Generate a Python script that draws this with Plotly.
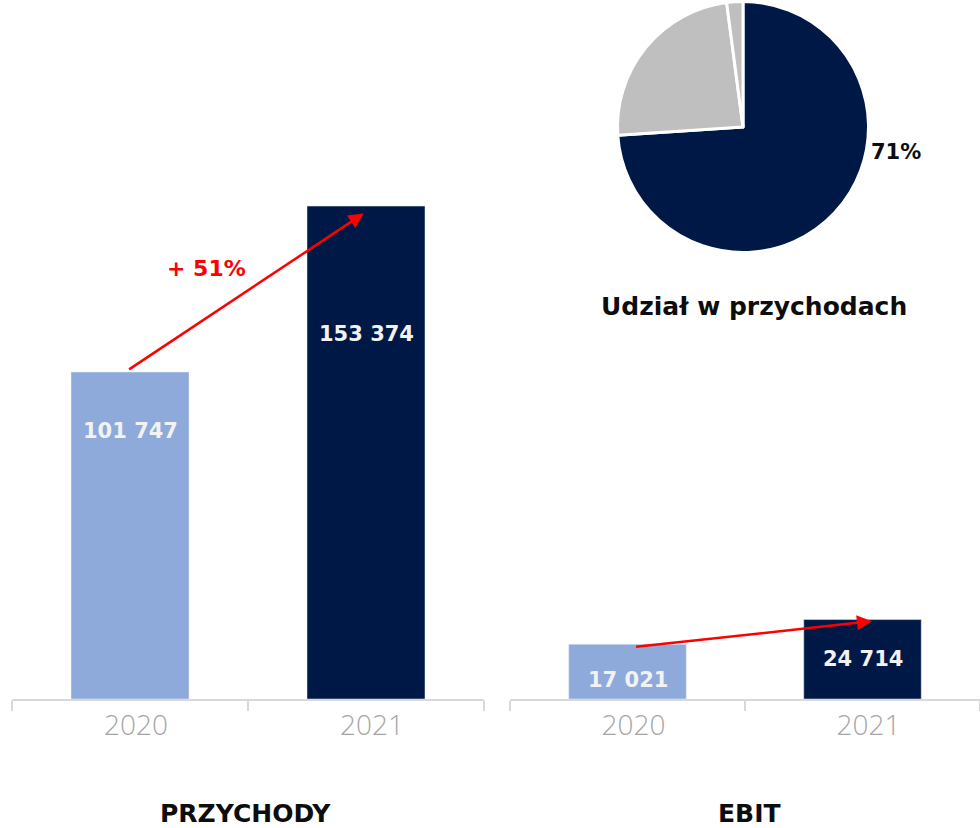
import plotly.graph_objects as go

years = ["2020", "2021"]
revenue = [101747, 153374]
ebit = [17021, 24714]
bar_colors = ["#8eaadb", "#001846"]
growth_label = "+ 51%"
pie_values = [71, 23, 2]
pie_colors = ["#001846", "#bfbfbf", "#bfbfbf"]
pie_title = "Udział w przychodach"
panel_titles = ["PRZYCHODY", "EBIT"]

W, H = 980, 828
FONT = "Open Sans"
BOLD = "DejaVu Sans"
YMAX = 217500


def fmt(v):
    return f"{v:,}".replace(",", " ")


fig = go.Figure()

fig.add_trace(go.Bar(x=years, y=revenue, marker_color=bar_colors, width=0.5,
                     xaxis="x", yaxis="y", hoverinfo="skip"))
fig.add_trace(go.Bar(x=years, y=ebit, marker_color=bar_colors, width=0.5,
                     xaxis="x2", yaxis="y2", hoverinfo="skip"))

fig.add_trace(go.Pie(values=pie_values, marker=dict(colors=pie_colors, line=dict(color="white", width=3)),
                     sort=False, direction="clockwise", rotation=0, textinfo="none",
                     hoverinfo="skip", showlegend=False,
                     domain=dict(x=[617.5 / W, 868.5 / W], y=[1 - 252.5 / H, 1 - 1.5 / H])))

base_y = (H - 699) / H
axis_common = dict(type="category", range=[-0.5, 1.5], showline=True, linecolor="#d9d9d9", linewidth=2,
                   ticks="outside", tickson="boundaries", ticklen=10, tickcolor="#d9d9d9",
                   tickwidth=2, showgrid=False, zeroline=False, tickangle=0, ticklabelshift=6,
                   tickfont=dict(family=FONT, size=28, color="#a6a6a6", weight=300))
fig.update_layout(
    width=W, height=H, margin=dict(l=0, r=0, t=0, b=0),
    plot_bgcolor="white", paper_bgcolor="white", showlegend=False,
    xaxis=dict(domain=[12 / W, 484 / W], anchor="y", **axis_common),
    xaxis2=dict(domain=[510 / W, 1.0], anchor="y2", **axis_common),
    yaxis=dict(domain=[base_y, 1], range=[0, YMAX], visible=False, anchor="x"),
    yaxis2=dict(domain=[base_y, 1], range=[0, YMAX], visible=False, anchor="x2"),
)

ann = []
lbl_font = dict(family=BOLD, size=21, color="#f2f2f2", weight=700)
rev_label_pos = [0.82, 0.74]
ebit_label_pos = [0.35, 0.5]
for i in range(len(years)):
    ann.append(dict(x=i, y=revenue[i] * rev_label_pos[i], xref="x", yref="y", text=fmt(revenue[i]),
                    showarrow=False, xanchor="center", yanchor="middle", font=lbl_font))
    ann.append(dict(x=i, y=ebit[i] * ebit_label_pos[i], xref="x2", yref="y2", text=fmt(ebit[i]),
                    showarrow=False, xanchor="center", yanchor="middle", font=lbl_font))

# growth arrows
ann.append(dict(x=0.99, y=revenue[1] * 0.985, xref="x", yref="y",
                ax=-0.01, ay=revenue[0] * 1.005, axref="x", ayref="y",
                showarrow=True, arrowhead=2, arrowsize=1.2, arrowwidth=2.5, arrowcolor="red", text=""))
ann.append(dict(x=1.04, y=ebit[1] * 0.98, xref="x2", yref="y2",
                ax=0.03, ay=ebit[0] * 0.95, axref="x2", ayref="y2",
                showarrow=True, arrowhead=2, arrowsize=1.2, arrowwidth=2.5, arrowcolor="red", text=""))

title_font = dict(family=BOLD, size=25, color="#0d0d0d", weight=700)


def paper_text(x, y, text, font):
    return dict(x=x / W, y=1 - y / H, xref="paper", yref="paper", text=text, showarrow=False,
                xanchor="center", yanchor="middle", font=font)


ann.append(paper_text(206, 268, growth_label, dict(family=BOLD, size=22, color="#ff0000", weight=700)))
ann.append(paper_text(896, 152, f"{pie_values[0]}%", dict(family=BOLD, size=21, color="#0d0d0d", weight=700)))
ann.append(paper_text(754, 306, pie_title, title_font))
ann.append(paper_text(245, 813, panel_titles[0], title_font))
ann.append(paper_text(749, 813, panel_titles[1], title_font))

fig.update_layout(annotations=ann)
fig.write_html("out.html", config={"displayModeBar": False},
               post_script="document.body.style.margin='0';")
